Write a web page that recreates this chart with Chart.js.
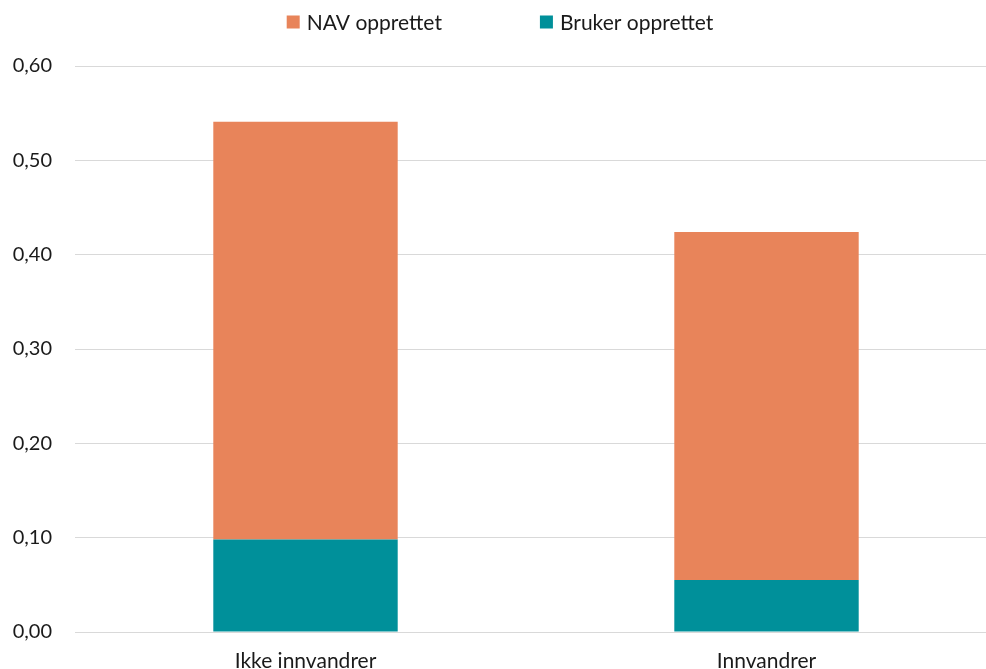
<!DOCTYPE html>
<html>
<head>
<meta charset="utf-8">
<script src="https://cdn.jsdelivr.net/npm/chart.js@4"></script>
<style>
html,body{margin:0;padding:0;background:#fff;overflow:hidden;}
#wrap{position:relative;width:997px;height:669px;}
</style>
</head>
<body>
<div id="wrap"><canvas id="c" width="997" height="669"></canvas></div>
<script>
const categories = ["Ikke innvandrer", "Innvandrer"];
const brukerOpprettet = [0.098, 0.055];
const navOpprettet = [0.443, 0.369];
const seriesLabels = ["NAV opprettet", "Bruker opprettet"];
const seriesColors = ["#E8845A", "#00909A"];

const FONT = "Lato, 'Open Sans', sans-serif";
const TEXT = "#1a1a1a";

const legendPlugin = {
  id: 'customLegend',
  afterDraw(chart) {
    const ctx = chart.ctx;
    ctx.save();
    ctx.font = "21px " + FONT;
    ctx.textBaseline = "middle";
    ctx.fillStyle = TEXT;
    const items = [
      {label: seriesLabels[0], color: seriesColors[0]},
      {label: seriesLabels[1], color: seriesColors[1]}
    ];
    const box = 13, gapText = 7, gapItem = 98;
    const widths = items.map(it => box + gapText + ctx.measureText(it.label).width);
    const total = widths[0] + gapItem + widths[1];
    let x = 500 - total / 2;
    const y = 22;
    items.forEach((it, i) => {
      ctx.fillStyle = it.color;
      ctx.fillRect(x, y - 6.5, box, box);
      ctx.fillStyle = TEXT;
      ctx.fillText(it.label, x + box + gapText, y + 1);
      x += widths[i] + gapItem;
    });
    ctx.restore();
  }
};

new Chart(document.getElementById('c'), {
  type: 'bar',
  data: {
    labels: categories,
    datasets: [
      {label: seriesLabels[1], data: brukerOpprettet, backgroundColor: seriesColors[1], borderWidth: 0},
      {label: seriesLabels[0], data: navOpprettet, backgroundColor: seriesColors[0], borderWidth: 0}
    ]
  },
  options: {
    responsive: false,
    animation: false,
    devicePixelRatio: 1,
    layout: {padding: {top: 66, right: 0, bottom: 0, left: 0}},
    plugins: {legend: {display: false}, tooltip: {enabled: false}},
    datasets: {bar: {categoryPercentage: 1, barPercentage: 0.4}},
    scales: {
      x: {
        stacked: true,
        grid: {display: false, drawTicks: false},
        border: {display: false},
        ticks: {font: {family: FONT, size: 21}, color: TEXT, padding: 17},
        afterFit(scale) { scale.height = 37; }
      },
      y: {
        stacked: true,
        min: 0, max: 0.6,
        grid: {color: "#d9d9d9", lineWidth: 1, drawTicks: false},
        border: {display: false},
        ticks: {
          stepSize: 0.1,
          font: {family: FONT, size: 20},
          color: TEXT,
          padding: 23,
          callback: v => v.toFixed(2).replace('.', ',')
        },
        afterFit(scale) { scale.width = 75; }
      }
    }
  },
  plugins: [legendPlugin]
});
</script>
</body>
</html>
